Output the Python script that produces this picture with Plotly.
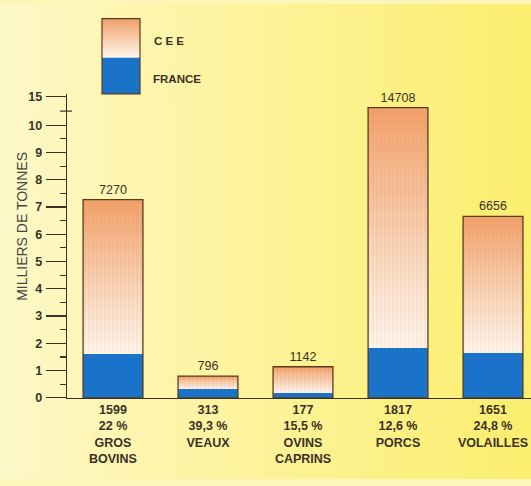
import plotly.graph_objects as go

# ---- data (milliers de tonnes) ----
categories = ["GROS<br>BOVINS", "VEAUX", "OVINS<br>CAPRINS", "PORCS", "VOLAILLES"]
cee_total = [7270, 796, 1142, 14708, 6656]
france = [1599, 313, 177, 1817, 1651]
france_pct = ["22 %", "39,3 %", "15,5 %", "12,6 %", "24,8 %"]
ytick_vals = [0, 1, 2, 3, 4, 5, 6, 7, 8, 9, 10]
ytick_top_label = "15"

# broken axis above 10 000
BREAK = 10000
BREAK_SCALE = 0.138  # compression of the part above the break


def to_axis(v):
    v = v / 1000.0
    if v <= BREAK / 1000.0:
        return v
    return BREAK / 1000.0 + (v - BREAK / 1000.0) * BREAK_SCALE


x_idx = list(range(len(categories)))
tick_text = [f"{f}<br>{p}<br>{c}" for f, p, c in zip(france, france_pct, categories)]
fr_y = [to_axis(v) for v in france]
tot_y = [to_axis(v) for v in cee_total]

W = 531
H = 486
FONT = "Liberation Sans Narrow, Liberation Sans, Arial, sans-serif"
TXT = "#3a3226"
EDGE = "#5b3b20"
BLUE = "#1b73c9"
BAR_W = 0.63

fig = go.Figure()

# France (blue)
fig.add_trace(go.Bar(x=x_idx, y=fr_y, width=BAR_W, marker=dict(color=BLUE, line=dict(width=0)),
                     showlegend=False, hoverinfo="skip"))

# CEE gradient slices (white at bottom -> orange at top)
N = 28
c_bot = (253, 246, 236)
c_top = (241, 160, 104)
for k in range(N):
    t = (k + 0.5) / N
    tt = t ** 1.1
    col = tuple(int(round(c_bot[i] + (c_top[i] - c_bot[i]) * tt)) for i in range(3))
    seg_h = [(t_ - f_) / N for t_, f_ in zip(tot_y, fr_y)]
    base = [f_ + s * k for f_, s in zip(fr_y, seg_h)]
    fig.add_trace(go.Bar(x=x_idx, y=[s * 1.02 for s in seg_h], base=base, width=BAR_W,
                         marker=dict(color="rgb(%d,%d,%d)" % col, line=dict(width=0)),
                         showlegend=False, hoverinfo="skip"))

# vertical streaks on CEE part
fig.add_trace(go.Bar(x=x_idx, y=[t_ - f_ for t_, f_ in zip(tot_y, fr_y)], base=fr_y, width=BAR_W,
                     marker=dict(color="rgba(0,0,0,0)", line=dict(width=0),
                                 pattern=dict(shape="|", fgcolor="rgba(225,130,90,0.35)",
                                              bgcolor="rgba(0,0,0,0)", size=4, solidity=0.25)),
                     showlegend=False, hoverinfo="skip"))

# outline + value labels
fig.add_trace(go.Bar(x=x_idx, y=tot_y, width=BAR_W,
                     marker=dict(color="rgba(0,0,0,0)", line=dict(color=EDGE, width=1.3)),
                     text=[str(v) for v in cee_total], textposition="outside",
                     textfont=dict(family=FONT, size=12.5, color=TXT),
                     constraintext="none", cliponaxis=False,
                     showlegend=False, hoverinfo="skip"))

# background gradient stripes
shapes = []
NS = 40
bl = (253, 248, 200)
br = (252, 238, 112)
for k in range(NS):
    t = k / (NS - 1)
    col = tuple(int(round(bl[i] + (br[i] - bl[i]) * t ** 0.9)) for i in range(3))
    shapes.append(dict(type="rect", xref="paper", yref="paper", x0=k / NS, x1=(k + 1) / NS + 0.002,
                       y0=0, y1=1, fillcolor="rgb(%d,%d,%d)" % col, line=dict(width=0), layer="below"))

# legend box
lx0, lx1 = 102 / W, 140 / W
ly_top, ly_mid, ly_bot = 1 - 15 / H, 1 - 55 / H, 1 - 92 / H
NL = 12
for k in range(NL):
    t = (k + 0.5) / NL
    col = tuple(int(round(c_bot[i] + (c_top[i] - c_bot[i]) * t)) for i in range(3))
    y0 = ly_mid + (ly_top - ly_mid) * k / NL
    y1 = ly_mid + (ly_top - ly_mid) * (k + 1) / NL + 0.001
    shapes.append(dict(type="rect", xref="paper", yref="paper", x0=lx0, x1=lx1, y0=y0, y1=min(y1, ly_top),
                       fillcolor="rgb(%d,%d,%d)" % col, line=dict(width=0)))
shapes.append(dict(type="rect", xref="paper", yref="paper", x0=lx0, x1=lx1, y0=ly_bot, y1=ly_mid,
                   fillcolor=BLUE, line=dict(width=0)))
shapes.append(dict(type="rect", xref="paper", yref="paper", x0=lx0, x1=lx1, y0=ly_bot, y1=ly_top,
                   fillcolor="rgba(0,0,0,0)", line=dict(color=EDGE, width=1.2)))

# axis break mark
shapes.append(dict(type="line", xref="paper", yref="y", x0=60 / W, x1=72 / W, y0=10.52, y1=10.52,
                   line=dict(color=TXT, width=1.2)))

annotations = [
    dict(text="C E E", xref="paper", yref="paper", x=152 / W, y=1 - 38 / H, xanchor="left", yanchor="middle",
         showarrow=False, font=dict(family=FONT, size=11.5, color=TXT, weight="bold")),
    dict(text="FRANCE", xref="paper", yref="paper", x=151 / W, y=1 - 77 / H, xanchor="left", yanchor="middle",
         showarrow=False, font=dict(family=FONT, size=11.5, color=TXT, weight="bold")),
    dict(text="MILLIERS DE TONNES", xref="paper", yref="paper", x=22 / W, y=1 - 228 / H, textangle=-90,
         xanchor="center", yanchor="middle", showarrow=False,
         font=dict(family="Liberation Sans, Arial, sans-serif", size=14, color="#454545")),
]

x_left_px = 67
px_per_cat = 95
first_center_px = 113
x_rng = [(x_left_px - first_center_px) / px_per_cat, (W - first_center_px) / px_per_cat]

fig.update_layout(
    width=W, height=H,
    margin=dict(l=0, r=0, t=0, b=0),
    paper_bgcolor="#fdf6b8",
    plot_bgcolor="rgba(0,0,0,0)",
    barmode="overlay",
    bargap=0,
    shapes=shapes,
    annotations=annotations,
    xaxis=dict(domain=[x_left_px / W, 1], range=x_rng, tickmode="array", tickvals=x_idx, ticktext=tick_text,
               showgrid=False, zeroline=False, showline=True, linecolor=TXT, linewidth=1.3, ticks="",
               tickfont=dict(family=FONT, size=12.5, color=TXT, weight="bold"), fixedrange=True),
    yaxis=dict(domain=[1 - 403 / H, 1 - 92 / H], range=[0, 11.15], tickmode="array",
               tickvals=ytick_vals + [11.05], ticktext=[str(v) for v in ytick_vals] + [ytick_top_label],
               ticks="outside", ticklen=20, tickwidth=1.2, tickcolor=TXT,
               minor=dict(tickvals=[v + 0.5 for v in ytick_vals[:-1]], ticklen=6, tickwidth=1.1,
                          tickcolor=TXT, ticks="outside"),
               showgrid=False, zeroline=False, showline=True, linecolor=TXT, linewidth=1.3,
               tickfont=dict(family=FONT, size=12.5, color=TXT, weight="bold"), ticklabelstandoff=1,
               fixedrange=True),
    font=dict(family=FONT, color=TXT),
)

fig.write_html("out.html", config={"displayModeBar": False, "staticPlot": True},
               post_script="document.body.style.margin='0';document.body.style.padding='0';")
